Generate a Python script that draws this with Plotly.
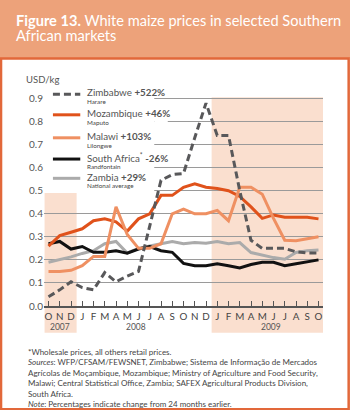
import plotly.graph_objects as go

# months Oct 2007 .. Oct 2009
months = ["O", "N", "D", "J", "F", "M", "A", "M", "J", "J", "A", "S",
          "O", "N", "D", "J", "F", "M", "A", "M", "J", "J", "A", "S", "O"]
years = ["2007", "2008", "2009"]
year_pos = [1, 7.8, 19.8]

# USD/kg
zimbabwe = [0.04, 0.07, 0.105, 0.08, 0.07, 0.145, 0.105, 0.13, 0.15, 0.35, 0.545, 0.57, 0.575,
            0.73, 0.88, 0.74, 0.74, 0.50, 0.285, 0.25, 0.25, 0.25, 0.235, 0.23, 0.23]
mozambique = [0.26, 0.305, 0.32, 0.335, 0.37, 0.378, 0.365, 0.325, 0.378, 0.40, 0.48, 0.48, 0.515,
              0.53, 0.515, 0.51, 0.50, 0.475, 0.43, 0.38, 0.395, 0.385, 0.385, 0.385, 0.378]
malawi = [0.15, 0.15, 0.155, 0.175, 0.215, 0.215, 0.43, 0.31, 0.25, 0.25, 0.27, 0.40, 0.42,
          0.40, 0.40, 0.415, 0.37, 0.515, 0.515, 0.485, 0.38, 0.285, 0.283, 0.29, 0.30]
south_africa = [0.27, 0.28, 0.247, 0.258, 0.233, 0.233, 0.24, 0.229, 0.247, 0.258, 0.24, 0.233, 0.185,
                0.175, 0.175, 0.183, 0.175, 0.165, 0.18, 0.19, 0.19, 0.175, 0.183, 0.19, 0.20]
zambia = [0.19, 0.20, 0.213, 0.228, 0.24, 0.27, 0.28, 0.23, 0.25, 0.26, 0.27, 0.28, 0.27,
          0.275, 0.272, 0.28, 0.27, 0.275, 0.232, 0.22, 0.21, 0.203, 0.232, 0.24, 0.243]

names = ["Zimbabwe", "Mozambique", "Malawi", "South Africa<sup>*</sup>", "Zambia"]
changes = ["+522%", "+46%", "+103%", "-26%", "+29%"]
markets = ["Harare", "Maputo", "Lilongwe", "Randfontain", "National average"]
series = [zimbabwe, mozambique, malawi, south_africa, zambia]

colors = ["#58585a", "#e0521b", "#ef9062", "#111111", "#ababab"]
dashes = ["7px,4px", "solid", "solid", "solid", "solid"]

FONT = "Lato"
HEAD = "#eda27a"
EDGE = "#e2683a"
SHADE = "#fadfcf"

x = list(range(len(months)))
fig = go.Figure()

# draw order: Zambia, South Africa, Mozambique, Malawi, Zimbabwe
for i in [4, 3, 1, 2, 0]:
    fig.add_trace(go.Scatter(x=x, y=series[i], mode="lines", hoverinfo="skip",
                             line=dict(color=colors[i], width=3, dash=dashes[i])))

# year shading
fig.add_shape(type="rect", xref="x", yref="paper", x0=-0.35, x1=2.5, y0=-0.122, y1=0.516,
              fillcolor=SHADE, line_width=0, layer="below")
fig.add_shape(type="rect", xref="x", yref="paper", x0=14.5, x1=24.6, y0=-0.122, y1=0.953,
              fillcolor=SHADE, line_width=0, layer="below")

# white box behind the legend
fig.add_shape(type="rect", xref="x", yref="y", x0=-0.4, x1=9.4, y0=0.495, y1=0.96,
              fillcolor="white", line_width=0, layer="between")
fig.add_shape(type="rect", xref="x", yref="y", x0=9.4, x1=10.6, y0=0.78, y1=0.83,
              fillcolor="white", line_width=0, layer="between")

# legend
leg_y = [0.967, 0.873, 0.768, 0.671, 0.583]
for i in range(5):
    fig.add_shape(type="line", xref="paper", yref="paper", x0=0.032, x1=0.13,
                  y0=leg_y[i], y1=leg_y[i],
                  line=dict(color=colors[i], width=3, dash=dashes[i]))
    fig.add_annotation(xref="paper", yref="paper", x=0.146, y=leg_y[i] + 0.008,
                       xanchor="left", yanchor="middle", showarrow=False,
                       text=f"{names[i]} <b>{changes[i]}</b>",
                       font=dict(family=FONT, size=9.8, color="#555"))
    fig.add_annotation(xref="paper", yref="paper", x=0.146, y=leg_y[i] - 0.033,
                       xanchor="left", yanchor="middle", showarrow=False,
                       text=markets[i], font=dict(family=FONT, size=6.3, color="#444"))

# year labels
for yr, pos in zip(years, year_pos):
    fig.add_annotation(xref="x", yref="paper", x=pos, y=-0.094, text=yr, showarrow=False,
                       xanchor="center", yanchor="middle",
                       font=dict(family=FONT, size=8.5, color="#555"))

fig.add_annotation(xref="paper", yref="paper", x=-0.072, y=1.032, xanchor="left",
                   yanchor="middle", text="USD/kg", showarrow=False,
                   font=dict(family=FONT, size=9.5, color="#555"))

# header + frame
fig.add_shape(type="rect", xref="paper", yref="paper", x0=-0.16, x1=1.1, y0=1.132, y1=1.4,
              fillcolor=HEAD, line_width=0, layer="below")
fig.add_shape(type="rect", xref="paper", yref="paper", x0=-0.154, x1=1.092, y0=-0.472, y1=1.13,
              fillcolor="rgba(0,0,0,0)", line=dict(color=EDGE, width=2.5), layer="below")
fig.add_annotation(xref="paper", yref="paper", x=-0.108, y=1.302, xanchor="left",
                   yanchor="middle", showarrow=False,
                   text="<b>Figure 13.</b> White maize prices in selected Southern",
                   font=dict(family=FONT, size=14.6, color="white"))
fig.add_annotation(xref="paper", yref="paper", x=-0.108, y=1.233, xanchor="left",
                   yanchor="middle", showarrow=False, text="African markets",
                   font=dict(family=FONT, size=14.6, color="white"))

footer = ("*Wholesale prices, all others retail prices.<br>"
          "<i>Sources</i>: WFP/CFSAM/FEWSNET, Zimbabwe; Sistema de Informação de Mercados<br>"
          "Agrícolas de Moçambique, Mozambique; Ministry of Agriculture and Food Security,<br>"
          "Malawi; Central Statistical Office, Zambia; SAFEX Agricultural Products Division,<br>"
          "South Africa.<br>"
          "<i>Note</i>: Percentages indicate change from 24 months earlier.")
fig.add_annotation(xref="paper", yref="paper", x=-0.065, y=-0.176, xanchor="left",
                   yanchor="top", align="left", showarrow=False, text=footer,
                   font=dict(family=FONT, size=8, color="#444"))

fig.update_xaxes(range=[-0.4, 24.4], tickvals=x, ticktext=months, ticks="inside",
                 ticklen=5, tickcolor="#555", showline=True, linecolor="#555", linewidth=1.5,
                 showgrid=False, zeroline=False, tickfont=dict(family=FONT, size=9.8, color="#444"))
fig.update_yaxes(range=[0, 0.95], dtick=0.1, tick0=0, tickformat=".1f", showgrid=True,
                 gridcolor="#9a9a9a", gridwidth=1, zeroline=False,
                 tickfont=dict(family=FONT, size=10, color="#555"))

fig.update_layout(width=350, height=410, margin=dict(l=44, r=27, t=87, b=104),
                  paper_bgcolor="white", plot_bgcolor="rgba(0,0,0,0)", showlegend=False,
                  font=dict(family=FONT))

# the page body has a default 8px margin; drop it so the figure fills the window
fig.write_html("out.html", config={"displayModeBar": False},
               post_script="document.body.style.margin='0';")
